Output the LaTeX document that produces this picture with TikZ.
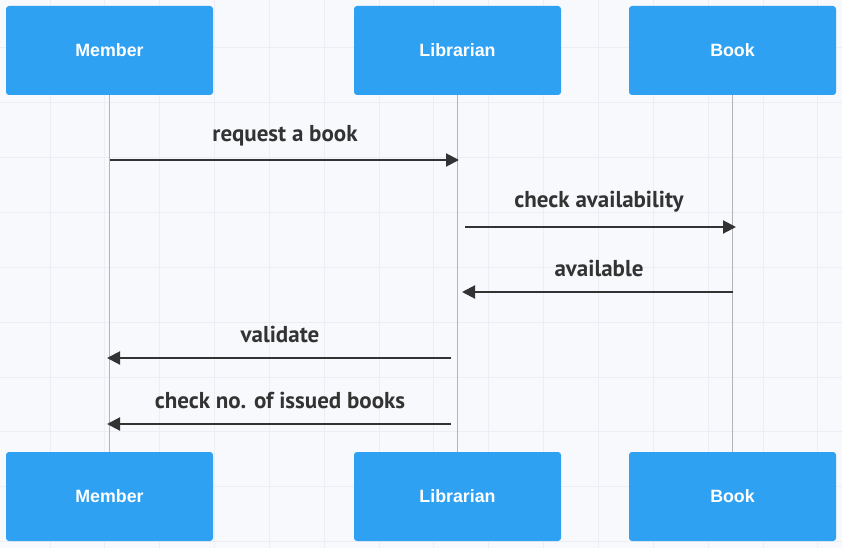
\documentclass[tikz,border=0pt]{standalone}
\usepackage{fontspec}
\setmainfont{Liberation Sans}
\newfontfamily\msgfont{PT Sans}
\usetikzlibrary{arrows.meta}
\definecolor{bgc}{HTML}{F8F9FC}
\definecolor{gridc}{HTML}{ECEEF4}
\definecolor{boxc}{HTML}{2FA1F3}
\definecolor{txtc}{HTML}{333333}
\definecolor{lifec}{HTML}{B4B4B8}
\tikzset{
  actor/.style={draw=none, fill=boxc, rounded corners=3pt, minimum width=207pt, minimum height=89pt, inner sep=0pt, text=white, font=\bfseries\fontsize{17.8}{20}\selectfont},
  msg/.style={draw=txtc, line width=2pt, -{Triangle[length=13pt,width=13pt]}},
  msglabel/.style={text=txtc, font=\msgfont\bfseries\fontsize{23}{27}\selectfont, inner sep=0pt},
  lifeline/.style={draw=lifec, line width=1pt}
}
\begin{document}
\begin{tikzpicture}[x=1pt,y=-1pt]
\useasboundingbox[fill=bgc] (0,0) rectangle (842,548);
% grid
\foreach \k in {0,...,14} { \draw[gridc, line width=1pt] ({50+54.85*\k},0) -- ({50+54.85*\k},548); }
\foreach \k in {0,...,9} { \draw[gridc, line width=1pt] (0,{48+54.85*\k}) -- (842,{48+54.85*\k}); }
% actors
\node[actor] (mt) at (109.5,50.5) {Member};
\node[actor] (lt) at (457.5,50.5) {Librarian};
\node[actor] (bt) at (732.5,50.5) {Book};
\node[actor] (mb) at (109.5,496.5) {Member};
\node[actor] (lb) at (457.5,496.5) {Librarian};
\node[actor] (bb) at (732.5,496.5) {Book};
% lifelines
\draw[lifeline] (mt.south) -- (mb.north);
\draw[lifeline] (lt.south) -- (lb.north);
\draw[lifeline] (bt.south) -- (bb.north);
% message endpoints
\coordinate (a1) at (110,160); \coordinate (b1) at (459,160);
\coordinate (a2) at (465,227); \coordinate (b2) at (736,227);
\coordinate (a3) at (733,292); \coordinate (b3) at (462,292);
\coordinate (a4) at (451,358); \coordinate (b4) at (107,358);
\coordinate (a5) at (451,424); \coordinate (b5) at (107,424);
\draw[msg] (a1) -- (b1);
\draw[msg] (a2) -- (b2);
\draw[msg] (a3) -- (b3);
\draw[msg] (a4) -- (b4);
\draw[msg] (a5) -- (b5);
\node[msglabel] (l1) at (285,136) {request a book};
\node[msglabel] (l2) at (599,202) {check availability};
\node[msglabel] (l3) at (599,268) {available};
\node[msglabel] (l4) at (280,334) {validate};
\node[msglabel] (l5) at (280,400) {check no. of issued books};
\end{tikzpicture}
\end{document}
